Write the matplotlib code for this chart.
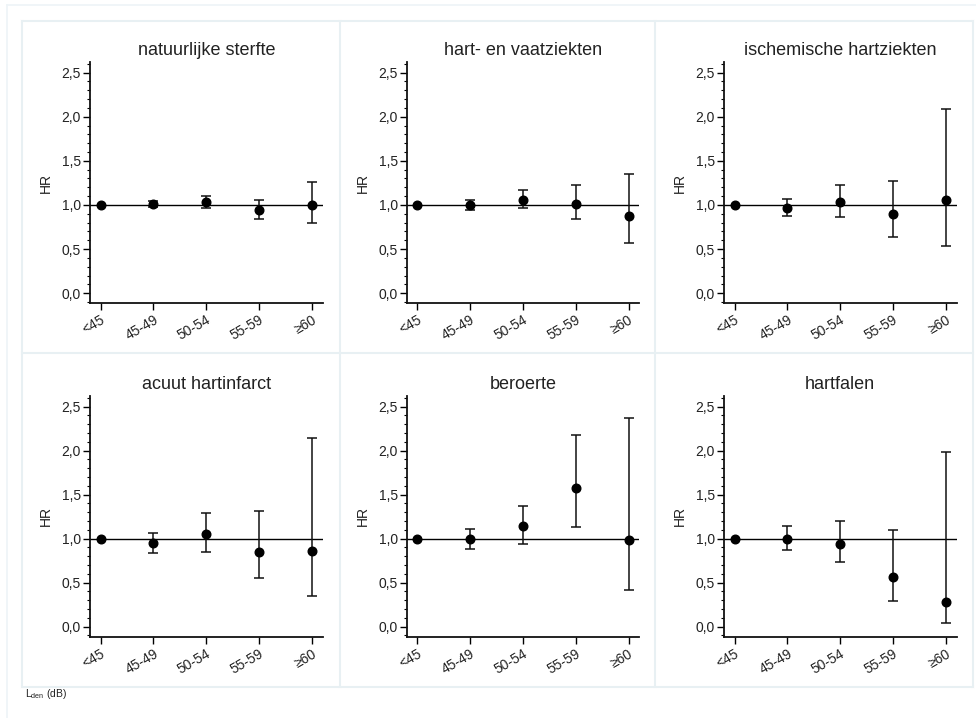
import matplotlib
matplotlib.use("Agg")
import matplotlib.pyplot as plt
from matplotlib.lines import Line2D
from matplotlib.ticker import MultipleLocator, FuncFormatter

plt.rcParams['font.family'] = ['Liberation Sans', 'DejaVu Sans']
plt.rcParams['mathtext.default'] = 'regular'

categories = ['<45', '45-49', '50-54', '55-59', '≥60']
titles = ['natuurlijke sterfte', 'hart- en vaatziekten', 'ischemische hartziekten',
          'acuut hartinfarct', 'beroerte', 'hartfalen']

hr_natuurlijk = [1.00, 1.01, 1.035, 0.94, 1.00]
lo_natuurlijk = [1.00, 0.98, 0.97, 0.84, 0.80]
hi_natuurlijk = [1.00, 1.04, 1.10, 1.06, 1.26]

hr_hartvaat = [1.00, 1.00, 1.06, 1.01, 0.87]
lo_hartvaat = [1.00, 0.94, 0.96, 0.84, 0.57]
hi_hartvaat = [1.00, 1.06, 1.17, 1.23, 1.35]

hr_ischemisch = [1.00, 0.97, 1.03, 0.90, 1.055]
lo_ischemisch = [1.00, 0.875, 0.865, 0.635, 0.54]
hi_ischemisch = [1.00, 1.07, 1.225, 1.27, 2.085]

hr_infarct = [1.00, 0.95, 1.05, 0.85, 0.86]
lo_infarct = [1.00, 0.835, 0.85, 0.55, 0.35]
hi_infarct = [1.00, 1.06, 1.29, 1.315, 2.14]

hr_beroerte = [1.00, 0.99, 1.14, 1.57, 0.985]
lo_beroerte = [1.00, 0.88, 0.94, 1.13, 0.41]
hi_beroerte = [1.00, 1.11, 1.375, 2.175, 2.365]

hr_hartfalen = [1.00, 1.00, 0.94, 0.565, 0.275]
lo_hartfalen = [1.00, 0.875, 0.735, 0.29, 0.04]
hi_hartfalen = [1.00, 1.145, 1.205, 1.095, 1.98]

series = [
    (hr_natuurlijk, lo_natuurlijk, hi_natuurlijk),
    (hr_hartvaat, lo_hartvaat, hi_hartvaat),
    (hr_ischemisch, lo_ischemisch, hi_ischemisch),
    (hr_infarct, lo_infarct, hi_infarct),
    (hr_beroerte, lo_beroerte, hi_beroerte),
    (hr_hartfalen, lo_hartfalen, hi_hartfalen),
]

W, H = 976, 718
fig = plt.figure(figsize=(W / 100, H / 100), dpi=100)
fig.patch.set_facecolor('white')

def fx(px):
    return px / W

def fy(py):
    return 1 - py / H

# panel borders
border = '#e8f0f3'
for xv in [22, 340, 655, 973]:
    fig.add_artist(Line2D([fx(xv), fx(xv)], [fy(21), fy(687)], color=border, lw=1.5))
for yv in [21, 353, 687]:
    fig.add_artist(Line2D([fx(22), fx(973)], [fy(yv), fy(yv)], color=border, lw=1.5))
# outer faint frame
fig.add_artist(Line2D([fx(7), fx(976)], [fy(5), fy(5)], color='#eef4f7', lw=1.2))
fig.add_artist(Line2D([fx(7), fx(7)], [fy(5), fy(718)], color='#eef4f7', lw=1.2))

lefts = [90, 406.7, 724]
rows = [(62, 303.3), (396, 636.7)]
axw = 232.5
textc = '#222222'

for i, (hr, lo, hi) in enumerate(series):
    r, c = divmod(i, 3)
    top, bot = rows[r]
    ax = fig.add_axes([fx(lefts[c]), fy(bot), axw / W, (bot - top) / H])
    x = list(range(len(categories)))
    yerr_lo = [h - l for h, l in zip(hr, lo)]
    yerr_hi = [u - h for h, u in zip(hr, hi)]
    ax.axhline(1.0, color='black', lw=1.0, zorder=1)
    ax.errorbar(x[1:], hr[1:], yerr=[yerr_lo[1:], yerr_hi[1:]], fmt='none',
                ecolor='#111111', elinewidth=1.1, capsize=3.5, capthick=1.1, zorder=2)
    ax.plot(x, hr, 'o', color='black', ms=6.2, zorder=3)
    ax.set_xlim(-0.2, 4.2)
    ax.set_ylim(-0.115, 2.62)
    ax.set_xticks(x)
    ax.set_xticklabels(categories, rotation=30, ha='right', va='top',
                       rotation_mode='anchor', fontsize=10, color=textc)
    ax.yaxis.set_major_locator(MultipleLocator(0.5))
    ax.yaxis.set_minor_locator(MultipleLocator(0.1))
    ax.yaxis.set_major_formatter(FuncFormatter(lambda v, p: f'{v:.1f}'.replace('.', ',')))
    for lab in ax.get_yticklabels():
        lab.set_fontsize(10)
        lab.set_color(textc)
    ax.tick_params(axis='y', which='major', direction='out', length=5, width=1.0,
                   pad=1.5, labelsize=10, labelcolor=textc)
    ax.tick_params(axis='y', which='minor', direction='out', length=2.5, width=0.8)
    ax.tick_params(axis='x', which='major', direction='out', length=5, width=1.0,
                   pad=2, labelsize=10, labelcolor=textc)
    for s in ['top', 'right']:
        ax.spines[s].set_visible(False)
    for s in ['left', 'bottom']:
        ax.spines[s].set_linewidth(1.3)
        ax.spines[s].set_color('#111111')
    ax.set_ylabel('HR', fontsize=10, color=textc, labelpad=6)
    ax.set_title(titles[i], fontsize=13, color=textc, pad=5)
    ax.patch.set_alpha(0)

fig.text(fx(25), fy(694), r'L$_{\mathregular{den}}$ (dB)', fontsize=7.5, color=textc,
         ha='left', va='center')

fig.savefig('out.png', dpi=100, facecolor='white')
